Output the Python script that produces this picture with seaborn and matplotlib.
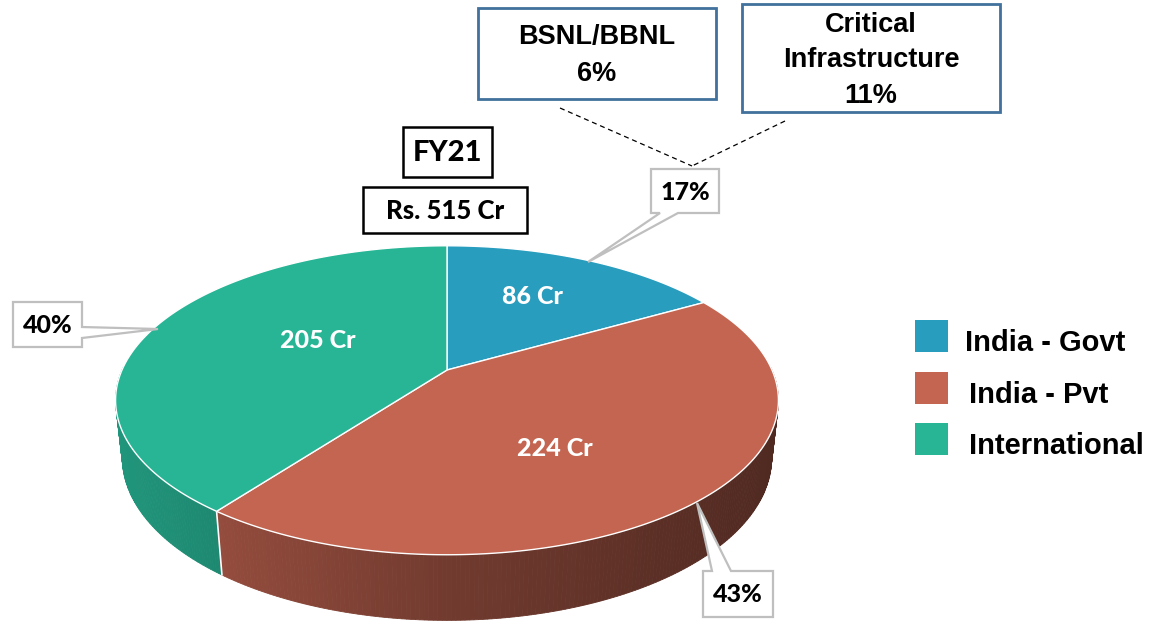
import numpy as np
import matplotlib
matplotlib.use('Agg')
import matplotlib.pyplot as plt
import seaborn as sns
from matplotlib.patches import Polygon, Rectangle
from matplotlib.colors import to_rgb

# ---------------- data ----------------
categories = ['India - Govt', 'India - Pvt', 'International']
values_cr = [86, 224, 205]
value_labels = ['86 Cr', '224 Cr', '205 Cr']
pct_labels = ['17%', '43%', '40%']
colors_hex = ['#299DBE', '#C46551', '#27B595']
govt_breakdown = ['BSNL/BBNL', 'Critical\nInfrastructure']
govt_breakdown_pct = ['6%', '11%']
title_year = 'FY21'
total_label = 'Rs. 515 Cr'

# ---------------- style ----------------
sns.set_theme(style='white')
plt.rcParams['font.family'] = ['Liberation Sans', 'DejaVu Sans']
plt.rcParams['text.color'] = 'black'
palette = sns.color_palette(colors_hex)
CAL = ['Lato', 'DejaVu Sans']
CALW = 'black'

W, H = 1151, 628
fig = plt.figure(figsize=(W / 100, H / 100), dpi=100)
ax = fig.add_axes([0, 0, 1, 1])
ax.set_xlim(0, W)
ax.set_ylim(H, 0)
ax.axis('off')

# ---------------- 3D pie projection ----------------
CX, CY = 447, 370
S = 325
theta = np.radians(27.2)
sn, cs = np.sin(theta), np.cos(theta)
D = 4.54
HGT = 0.2


def proj(phi, r=1.0, z=0.0):
    u = r * np.cos(phi)
    v = r * np.sin(phi)
    t = -v * cs + z * sn
    k = D / (D - t)
    return CX + u * k * S, CY - (v * sn + z * cs) * k * S


vals = np.array(values_cr, float)
fr = vals / vals.sum()
bounds = np.radians(90 - 360 * np.concatenate([[0], np.cumsum(fr)]))


def shade(x):
    return np.interp(x, [100, 450, 790], [0.84, 0.58, 0.40])


# walls
strips = []
for i in range(len(vals)):
    phis = np.linspace(bounds[i], bounds[i + 1], 240)
    base = np.array(to_rgb(palette[i]))
    for a, b in zip(phis[:-1], phis[1:]):
        mid = 0.5 * (a + b)
        if np.sin(mid) >= 0.02:
            continue
        p1 = proj(a); p2 = proj(b)
        p3 = proj(b, z=-HGT); p4 = proj(a, z=-HGT)
        xm = 0.5 * (p1[0] + p2[0])
        col = np.clip(base * shade(xm), 0, 1)
        strips.append((np.sin(mid), [p1, p2, p3, p4], col))
strips.sort(key=lambda s: -s[0])
for _, pts, col in strips:
    ax.add_patch(Polygon(pts, closed=True, facecolor=col, edgecolor=col,
                         lw=0.6, zorder=2))

# white seam on wall between slices
for b in bounds[1:-1]:
    if np.sin(b) < 0:
        x1, y1 = proj(b)
        x2, y2 = proj(b, z=-HGT)
        ax.plot([x1, x2], [y1, y2], color='white', lw=1.2, zorder=3)

# top face
for i in range(len(vals)):
    phis = np.linspace(bounds[i], bounds[i + 1], 300)
    pts = [proj(0, r=0)] + [proj(p) for p in phis]
    ax.add_patch(Polygon(pts, closed=True, facecolor=palette[i],
                         edgecolor='white', lw=1.0, zorder=4))

# value labels inside slices
label_pos = [(532, 297), (555, 448), (318, 340)]
for (x, y), lab in zip(label_pos, value_labels):
    ax.text(x, y, lab, color='white', fontsize=18, fontweight=CALW,
            family=CAL, ha='center', va='center', zorder=6)

# ---------------- callouts ----------------
def callout(box, pointer_pts, text):
    ax.add_patch(Polygon(pointer_pts, closed=True, facecolor='white',
                         edgecolor='#BFBFBF', lw=1.6, zorder=7,
                         joinstyle='miter'))
    x0, y0, x1, y1 = box
    ax.text((x0 + x1) / 2, (y0 + y1) / 2 + 1, text, fontsize=18,
            fontweight=CALW, family=CAL, ha='center', va='center',
            color='black', zorder=8)

# 17%
callout((651, 169, 719, 213),
        [(651, 169), (719, 169), (719, 213), (678, 213), (588, 262),
         (660, 213), (651, 213)], pct_labels[0])
# 40%
callout((13, 302, 82, 347),
        [(13, 302), (82, 302), (82, 327), (158, 329), (82, 338),
         (82, 347), (13, 347)], pct_labels[2])
# 43%
callout((703, 571, 773, 617),
        [(703, 571), (712, 571), (697, 503), (731, 571), (773, 571),
         (773, 617), (703, 617)], pct_labels[1])

# ---------------- Govt breakdown boxes ----------------
ax.add_patch(Rectangle((478, 8), 238, 91, facecolor='white',
                       edgecolor='#41719C', lw=2, zorder=7))
ax.text(597, 37, govt_breakdown[0], fontsize=19.5, fontweight='bold',
        ha='center', va='center', zorder=8, color='black')
ax.text(597, 74, govt_breakdown_pct[0], fontsize=19.5, fontweight='bold',
        ha='center', va='center', zorder=8, color='black')

ax.add_patch(Rectangle((742, 4), 258, 108, facecolor='white',
                       edgecolor='#41719C', lw=2, zorder=7))
crit_lines = govt_breakdown[1].split('\n') + [govt_breakdown_pct[1]]
for yy, ln in zip([25, 60, 96], crit_lines):
    ax.text(871, yy, ln, fontsize=19.5, fontweight='bold',
            ha='center', va='center', zorder=8, color='black')

ax.plot([560, 692], [108, 166], ls=(0, (4, 3)), color='black', lw=0.9, zorder=5)
ax.plot([785, 692], [121, 166], ls=(0, (4, 3)), color='black', lw=0.9, zorder=5)

# ---------------- FY21 / total boxes ----------------
ax.add_patch(Rectangle((403, 127), 89, 50, facecolor='white',
                       edgecolor='black', lw=1.8, zorder=7))
ax.text(447.5, 153, title_year, fontsize=21, fontweight=CALW, family=CAL,
        ha='center', va='center', zorder=8, color='black')
ax.add_patch(Rectangle((363, 187), 164, 46, facecolor='white',
                       edgecolor='black', lw=1.8, zorder=7))
ax.text(445, 211, total_label, fontsize=18.5, fontweight=CALW, family=CAL,
        ha='center', va='center', zorder=8, color='black')

# ---------------- legend ----------------
leg_y = [336, 388, 439]
leg_tx = [965, 969, 969]
for i, cat in enumerate(categories):
    ax.add_patch(Rectangle((915, leg_y[i] - 16), 33, 32,
                           facecolor=palette[i], edgecolor='none', zorder=7))
    ax.text(leg_tx[i], leg_y[i] + 7, cat, fontsize=21, fontweight='bold',
            ha='left', va='center', zorder=8, color='black')

fig.savefig('out.png', dpi=100)
